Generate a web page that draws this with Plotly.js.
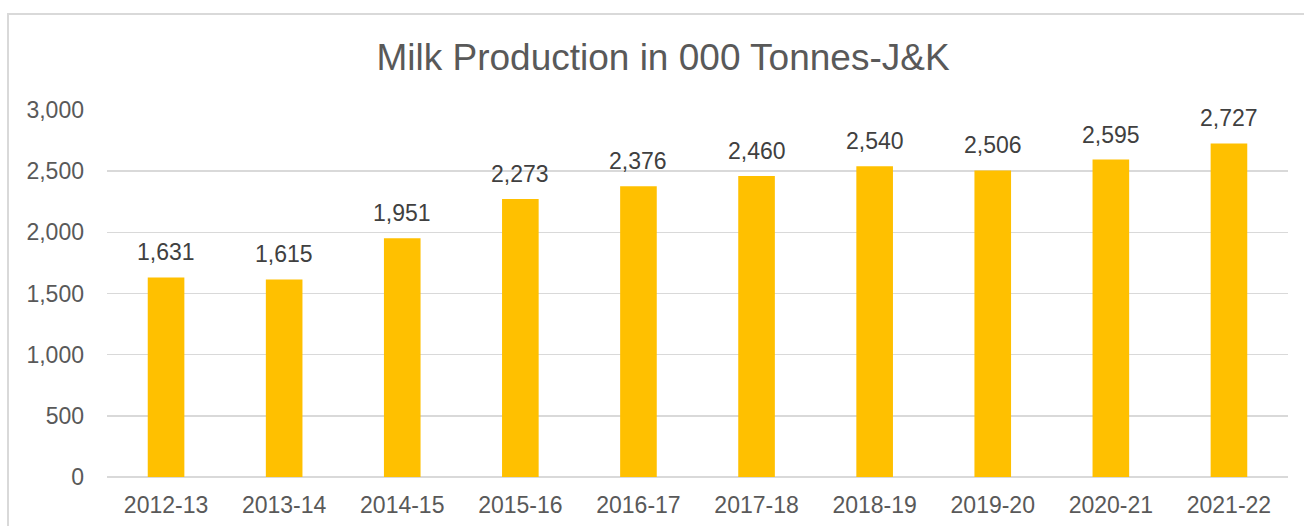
<!DOCTYPE html>
<html>
<head>
<meta charset="utf-8">
<script src="https://cdn.plot.ly/plotly-3.0.1.min.js"></script>
<style>
html,body{margin:0;padding:0;background:#fff;}
#chart{width:1304px;height:526px;}
</style>
</head>
<body>
<div id="chart"></div>
<script>
const years = ["2012-13","2013-14","2014-15","2015-16","2016-17","2017-18","2018-19","2019-20","2020-21","2021-22"];
const milkProduction = [1631,1615,1951,2273,2376,2460,2540,2506,2595,2727];
const chartTitle = "Milk Production in 000 Tonnes-J&K";

const W = 1304, H = 526;
const m = {l:107, r:16, t:110, b:49};
const pw = W - m.l - m.r, ph = H - m.t - m.b;
const px = v => (v - m.l) / pw;
const py = v => (H - m.b - v) / ph;
const FONT = "Liberation Sans, Arial, sans-serif";

const trace = {
  type: "bar",
  x: years,
  y: milkProduction,
  marker: {color: "#FFC000"},
  hoverinfo: "none"
};

const labels = years.map((c, i) => ({
  x: c, y: milkProduction[i],
  xref: "x", yref: "y",
  text: milkProduction[i].toLocaleString("en-US"),
  showarrow: false,
  yanchor: "bottom",
  yshift: 10,
  font: {family: FONT, size: 23, color: "#404040"}
}));

const layout = {
  width: W, height: H,
  margin: m,
  paper_bgcolor: "#ffffff",
  plot_bgcolor: "#ffffff",
  bargap: 0.69,
  showlegend: false,
  font: {family: FONT, color: "#595959"},
  title: {
    text: chartTitle,
    font: {size: 37, color: "#595959", family: FONT},
    x: 663 / W, xanchor: "center",
    y: 1 - 57 / H, yanchor: "middle"
  },
  xaxis: {
    type: "category",
    showgrid: false,
    showline: false,
    ticks: "",
    tickfont: {size: 23, color: "#595959"},
    ticklabelstandoff: 12
  },
  yaxis: {
    range: [0, 3000],
    dtick: 500,
    tickformat: ",",
    showgrid: true,
    gridcolor: "#D9D9D9",
    gridwidth: 1.5,
    zeroline: true,
    zerolinecolor: "#D9D9D9",
    zerolinewidth: 2,
    showline: false,
    ticks: "",
    tickfont: {size: 23, color: "#595959"},
    ticklabelstandoff: 22
  },
  annotations: labels,
  shapes: [{
    type: "rect",
    xref: "paper", yref: "paper",
    x0: px(8), x1: px(W + 20),
    y0: py(H + 20), y1: py(14),
    line: {color: "#D9D9D9", width: 2},
    fillcolor: "rgba(0,0,0,0)",
    layer: "below"
  }]
};

Plotly.newPlot("chart", [trace], layout, {displayModeBar: false, staticPlot: true});
</script>
</body>
</html>
